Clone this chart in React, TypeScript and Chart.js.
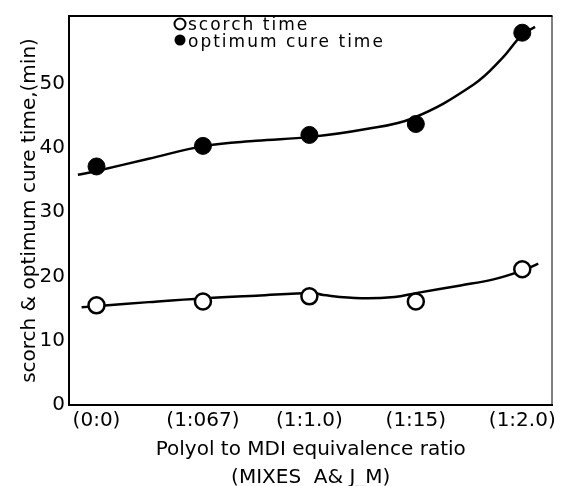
import React, { useEffect, useRef } from 'react';
import { Chart, registerables } from 'chart.js';

Chart.register(...registerables);

// ---- data ----
const categories = ['(0:0)', '(1:067)', '(1:1.0)', '(1:15)', '(1:2.0)'];
const categoryIndex = [0, 1, 2, 3, 4];
const scorchTime = [15.5, 16.1, 16.9, 16.1, 21.1];
const optimumCureTime = [37.1, 40.3, 42.0, 43.7, 57.9];

// hand-drawn smooth fit curves
const scorchCurveX = [-0.14, 0.02, 0.49, 1.02, 1.5, 2.04, 2.13, 2.49, 2.8, 3.0, 3.42, 3.72, 4.0, 4.15];
const scorchCurveY = [15.2, 15.4, 16.0, 16.6, 17.0, 17.4, 17.1, 16.6, 16.8, 17.4, 18.6, 19.5, 20.9, 22.0];
const cureCurveX = [-0.175, 0.0, 0.49, 1.02, 1.5, 2.01, 2.52, 2.97, 3.54, 3.81, 4.0, 4.12];
const cureCurveY = [35.8, 36.4, 38.3, 40.3, 41.1, 41.7, 42.9, 44.6, 49.8, 53.9, 57.6, 58.8];

const yTicks = [0, 10, 20, 30, 40, 50];
const legendLabels = ['scorch time', 'optimum cure time'];
const xTitle = ['Polyol to MDI equivalence ratio', '(MIXES  A& J_M)'];
const yTitle = 'scorch & optimum cure time,(min)';

const FONT = '"DejaVu Sans", sans-serif';
const INK = '#000000';

const framePlugin = {
  id: 'frame',
  afterDraw(chart: any) {
    const { ctx, chartArea } = chart;
    const { left, right, top, bottom } = chartArea;
    ctx.save();
    ctx.strokeStyle = INK;
    ctx.lineWidth = 2;
    ctx.beginPath();
    ctx.moveTo(left - 1, top);
    ctx.lineTo(right, top);
    ctx.stroke();
    ctx.lineWidth = 1;
    ctx.beginPath();
    ctx.moveTo(right - 0.5, top);
    ctx.lineTo(right - 0.5, bottom);
    ctx.stroke();
    ctx.restore();
  },
};

const legendPlugin = {
  id: 'handLegend',
  afterDraw(chart: any) {
    const { ctx } = chart;
    ctx.save();
    ctx.fillStyle = INK;
    ctx.strokeStyle = INK;
    ctx.font = `17px ${FONT}`;
    (ctx as any).letterSpacing = '2px';
    ctx.textBaseline = 'alphabetic';
    ctx.textAlign = 'left';
    // open circle
    ctx.lineWidth = 2;
    ctx.beginPath();
    ctx.arc(180, 24, 5.5, 0, Math.PI * 2);
    ctx.stroke();
    ctx.fillText(legendLabels[0], 188, 30);
    // filled circle
    ctx.beginPath();
    ctx.arc(180, 40, 5.5, 0, Math.PI * 2);
    ctx.fill();
    ctx.fillText(legendLabels[1], 188, 47);
    ctx.restore();
  },
};

export default function App() {
  const canvasRef = useRef<HTMLCanvasElement | null>(null);

  useEffect(() => {
    if (!canvasRef.current) return;
    const chart = new Chart(canvasRef.current, {
      type: 'line',
      data: {
        datasets: [
          {
            label: legendLabels[0],
            data: categoryIndex.map((x, i) => ({ x, y: scorchTime[i] })),
            showLine: false,
            pointRadius: 8,
            pointBackgroundColor: '#ffffff',
            pointBorderColor: INK,
            pointBorderWidth: 2.5,
          },
          {
            label: legendLabels[1],
            data: categoryIndex.map((x, i) => ({ x, y: optimumCureTime[i] })),
            showLine: false,
            pointRadius: 8.5,
            pointBackgroundColor: INK,
            pointBorderColor: INK,
            pointBorderWidth: 1,
          },
          {
            label: 'scorch fit',
            data: scorchCurveX.map((x, i) => ({ x, y: scorchCurveY[i] })),
            borderColor: INK,
            borderWidth: 2.5,
            pointRadius: 0,
            tension: 0.4,
            fill: false,
          },
          {
            label: 'cure fit',
            data: cureCurveX.map((x, i) => ({ x, y: cureCurveY[i] })),
            borderColor: INK,
            borderWidth: 2.5,
            pointRadius: 0,
            tension: 0.4,
            fill: false,
          },
        ],
      },
      options: {
        animation: false,
        responsive: true,
        maintainAspectRatio: false,
        devicePixelRatio: 1,
        layout: { padding: { top: 14, right: 2, left: 0, bottom: 0 } },
        plugins: {
          legend: { display: false },
          tooltip: { enabled: false },
        },
        scales: {
          x: {
            type: 'linear',
            min: -0.2585,
            max: 4.284,
            afterBuildTicks: (s: any) => {
              s.ticks = categoryIndex.map((v) => ({ value: v }));
            },
            afterFit: (s: any) => {
              s.height = 87;
            },
            ticks: {
              callback: (v: any) => categories[v as number] ?? '',
              font: { family: FONT, size: 20 },
              color: INK,
              padding: 4,
              maxRotation: 0,
              autoSkip: false,
            },
            grid: { display: false, drawTicks: false },
            border: { display: true, color: INK, width: 2 },
            title: {
              display: true,
              text: xTitle,
              color: INK,
              font: { family: FONT, size: 20, lineHeight: 1.4 },
              padding: { top: 0, bottom: 0 },
            },
          },
          y: {
            type: 'linear',
            min: 0,
            max: 60.5,
            afterBuildTicks: (s: any) => {
              s.ticks = yTicks.map((v) => ({ value: v }));
            },
            afterFit: (s: any) => {
              s.width = 69;
            },
            ticks: {
              font: { family: FONT, size: 20 },
              color: INK,
              padding: 4,
            },
            grid: { display: false, drawTicks: false },
            border: { display: true, color: INK, width: 2 },
            title: {
              display: true,
              text: yTitle,
              color: INK,
              font: { family: FONT, size: 20, lineHeight: 1.2 },
              padding: { top: 18, bottom: 0 },
            },
          },
        },
      },
      plugins: [framePlugin, legendPlugin],
    } as any);
    return () => chart.destroy();
  }, []);

  return (
    <div style={{ position: 'fixed', left: 0, top: 0, width: 563, height: 492, background: '#fff' }}>
      <canvas ref={canvasRef} />
    </div>
  );
}
